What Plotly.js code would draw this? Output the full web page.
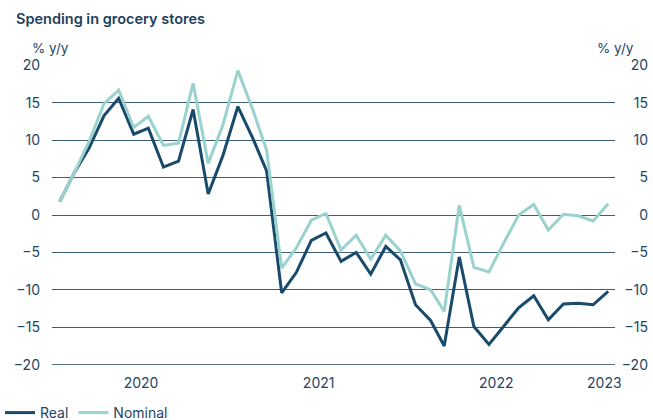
<!DOCTYPE html>
<html>
<head>
<meta charset="utf-8">
<script src="https://cdn.plot.ly/plotly-3.0.1.min.js"></script>
<style>html,body{margin:0;padding:0;background:#fff;}#chart{width:653px;height:420px;}</style>
</head>
<body>
<div id="chart"></div>
<script>
const months = ['2020-01-01','2020-02-01','2020-03-01','2020-04-01','2020-05-01','2020-06-01','2020-07-01','2020-08-01','2020-09-01','2020-10-01','2020-11-01','2020-12-01',
'2021-01-01','2021-02-01','2021-03-01','2021-04-01','2021-05-01','2021-06-01','2021-07-01','2021-08-01','2021-09-01','2021-10-01','2021-11-01','2021-12-01',
'2022-01-01','2022-02-01','2022-03-01','2022-04-01','2022-05-01','2022-06-01','2022-07-01','2022-08-01','2022-09-01','2022-10-01','2022-11-01','2022-12-01',
'2023-01-01','2023-02-01'];
const real = [1.8, 5.8, 8.9, 13.3, 15.6, 10.8, 11.6, 6.4, 7.2, 14.1, 2.8, 7.9, 14.5, 10.2, 5.9, -10.4, -7.7, -3.4, -2.4, -6.2, -5.0, -7.9, -4.2, -6.0, -12.0, -14.1, -17.5, -5.6, -14.9, -17.3, -14.9, -12.4, -10.8, -14.0, -11.9, -11.8, -12.0, -10.2];
const nominal = [1.8, 5.8, 9.8, 14.9, 16.7, 11.7, 13.2, 9.3, 9.6, 17.6, 6.9, 12.0, 19.3, 14.0, 8.7, -7.1, -4.4, -0.7, 0.2, -4.7, -2.7, -5.9, -2.7, -4.8, -9.2, -10.0, -12.9, 1.3, -7.0, -7.6, -3.8, 0.0, 1.4, -2.0, 0.1, -0.1, -0.8, 1.5];
const yearTickVals = ['2020-06-16','2021-06-16','2022-06-16','2023-01-24'];
const yearTickText = ['2020','2021','2022','2023'];
const yTicks = [20, 15, 10, 5, 0, -5, -10, -15, -20];
const yMin = -20;

const textColor = '#1d4566';
const gridColor = '#3f5d75';
const FONT = 'Inter, "Noto Sans", sans-serif';

const traces = [
  {x: months, y: real, name: 'Real', type: 'scatter', mode: 'lines',
   line: {color: '#1a4a6b', width: 3}},
  {x: months, y: nominal, name: 'Nominal', type: 'scatter', mode: 'lines',
   line: {color: '#9ad3cd', width: 3}},
  {x: months, y: real, yaxis: 'y2', type: 'scatter', mode: 'lines',
   line: {width: 0}, hoverinfo: 'skip', showlegend: false, opacity: 0}
];

const layout = {
  width: 653, height: 420,
  margin: {l: 52, r: 0, t: 65, b: 55, autoexpand: false},
  paper_bgcolor: '#fff', plot_bgcolor: '#fff',
  font: {family: FONT, size: 14, color: textColor},
  title: {text: 'Spending in grocery stores', xref: 'container', yref: 'container',
          x: 16/653, xanchor: 'left', y: 1 - 19/420, yanchor: 'middle',
          font: {family: FONT, size: 14.5, weight: 600, color: '#1d3f5c'}},
  xaxis: {type: 'date', domain: [0, 563/601], range: ['2019-12-16','2023-02-15'],
          tickmode: 'array', tickvals: yearTickVals, ticktext: yearTickText,
          showgrid: false, zeroline: false, showline: false, ticks: '', ticklabelstandoff: 8,
          automargin: false, tickfont: {size: 14, color: textColor}},
  yaxis: {range: [-20.05, 20.05], tickmode: 'array', tickvals: yTicks,
          showgrid: true, gridcolor: gridColor, gridwidth: 1, automargin: false,
          zeroline: false, showline: false, ticks: '', ticklabelstandoff: 11,
          tickfont: {size: 14, color: textColor}},
  yaxis2: {range: [-20.05, 20.05], tickmode: 'array', tickvals: yTicks, overlaying: 'y',
           anchor: 'free', position: 1, side: 'right', ticklabelposition: 'inside',
           ticklabeloverflow: 'allow', ticklabelstandoff: 2,
           showgrid: false, zeroline: false, showline: false, ticks: '', automargin: false,
           tickfont: {size: 14, color: textColor}},
  shapes: [
    {type: 'line', xref: 'paper', x0: 0, x1: 563/601, yref: 'y', y0: yMin, y1: yMin,
     layer: 'below', line: {color: gridColor, width: 1}}
  ],
  showlegend: true,
  legend: {orientation: 'h', xref: 'container', yref: 'container',
           x: 0, xanchor: 'left', y: 23/420, yanchor: 'top',
           font: {size: 14, color: textColor}, itemwidth: 30,
           tracegroupgap: 0, bgcolor: 'rgba(0,0,0,0)'},
  annotations: [
    {text: '% y/y', xref: 'paper', yref: 'paper', x: -22/601, y: 1 + 17/300, xanchor: 'left', yanchor: 'middle',
     showarrow: false, font: {size: 13.5, color: textColor}},
    {text: '% y/y', xref: 'paper', yref: 'paper', x: 584/601, y: 1 + 17/300, xanchor: 'right', yanchor: 'middle',
     showarrow: false, font: {size: 13.5, color: textColor}}
  ]
};

Plotly.newPlot('chart', traces, layout, {displayModeBar: false, staticPlot: true});
</script>
</body>
</html>
